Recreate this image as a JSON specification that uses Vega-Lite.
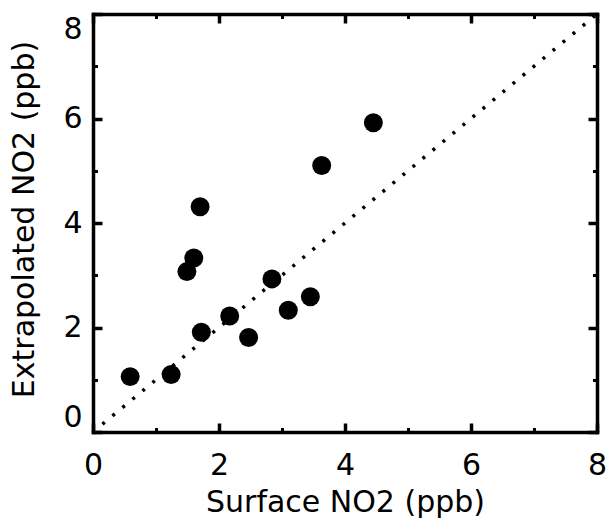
{
  "$schema": "https://vega.github.io/schema/vega-lite/v6.json",
  "width": 504,
  "height": 418,
  "autosize": {"type": "none"},
  "padding": {"left": 93, "top": 14, "right": 11, "bottom": 92},
  "config": {
    "view": {"stroke": null},
    "font": "DejaVu Sans",
    "axis": {
      "domainColor": "black",
      "domainWidth": 3.5,
      "domainCap": "square",
      "tickColor": "black",
      "tickSize": {"condition": {"test": "datum.value % 2 === 0", "value": -9}, "value": -4.5},
      "tickWidth": {"condition": {"test": "datum.value % 2 === 0", "value": 3.5}, "value": 3},
      "grid": false,
      "labelFont": "DejaVu Sans",
      "labelFontSize": 30,
      "labelColor": "black",
      "labelOverlap": false,
      "titleFont": "DejaVu Sans",
      "titleFontSize": 30,
      "titleFontWeight": "normal",
      "titleColor": "black"
    }
  },
  "datasets": {
    "points": [
      {"surface": 0.59, "extrap": 1.06},
      {"surface": 1.24, "extrap": 1.10},
      {"surface": 1.72, "extrap": 1.91},
      {"surface": 2.17, "extrap": 2.22},
      {"surface": 2.47, "extrap": 1.81},
      {"surface": 2.84, "extrap": 2.93},
      {"surface": 3.10, "extrap": 2.33},
      {"surface": 3.45, "extrap": 2.59},
      {"surface": 1.49, "extrap": 3.07},
      {"surface": 1.60, "extrap": 3.33},
      {"surface": 1.70, "extrap": 4.31},
      {"surface": 3.63, "extrap": 5.10},
      {"surface": 4.45, "extrap": 5.92}
    ],
    "diag": [
      {"surface": 0.15, "extrap": 0.15},
      {"surface": 8, "extrap": 8}
    ]
  },
  "layer": [
    {
      "data": {"name": "diag"},
      "mark": {"type": "line", "color": "black", "strokeWidth": 3.5, "strokeDash": [3, 10], "strokeCap": "butt"},
      "encoding": {
        "x": {
          "field": "surface", "type": "quantitative",
          "scale": {"domain": [0, 8], "nice": false, "zero": false},
          "axis": {
            "orient": "bottom",
            "values": [0, 1, 2, 3, 4, 5, 6, 7, 8],
            "labelExpr": "datum.value % 2 === 0 ? datum.label : ''",
            "labelFlush": false,
            "labelPadding": 27,
            "title": "Surface NO2 (ppb)",
            "titleBaseline": "alphabetic",
            "titleY": 79
          }
        },
        "y": {
          "field": "extrap", "type": "quantitative",
          "scale": {"domain": [0, 8], "nice": false, "zero": false},
          "axis": {
            "orient": "left",
            "values": [0, 1, 2, 3, 4, 5, 6, 7, 8],
            "labelExpr": "datum.value % 2 === 0 ? datum.label : ''",
            "labelPadding": 20,
            "labelFlush": true,
            "title": "Extrapolated NO2 (ppb)",
            "titleBaseline": "alphabetic",
            "titleX": -60,
            "titleY": 205
          }
        }
      }
    },
    {
      "data": {"name": "points"},
      "mark": {"type": "circle", "color": "black", "opacity": 1, "size": 360},
      "encoding": {
        "x": {
          "field": "surface", "type": "quantitative",
          "axis": {
            "orient": "top",
            "values": [0, 1, 2, 3, 4, 5, 6, 7, 8],
            "labels": false,
            "title": null
          }
        },
        "y": {
          "field": "extrap", "type": "quantitative",
          "axis": {
            "orient": "right",
            "values": [0, 1, 2, 3, 4, 5, 6, 7, 8],
            "labels": false,
            "title": null
          }
        }
      }
    }
  ],
  "resolve": {"axis": {"x": "independent", "y": "independent"}}
}
